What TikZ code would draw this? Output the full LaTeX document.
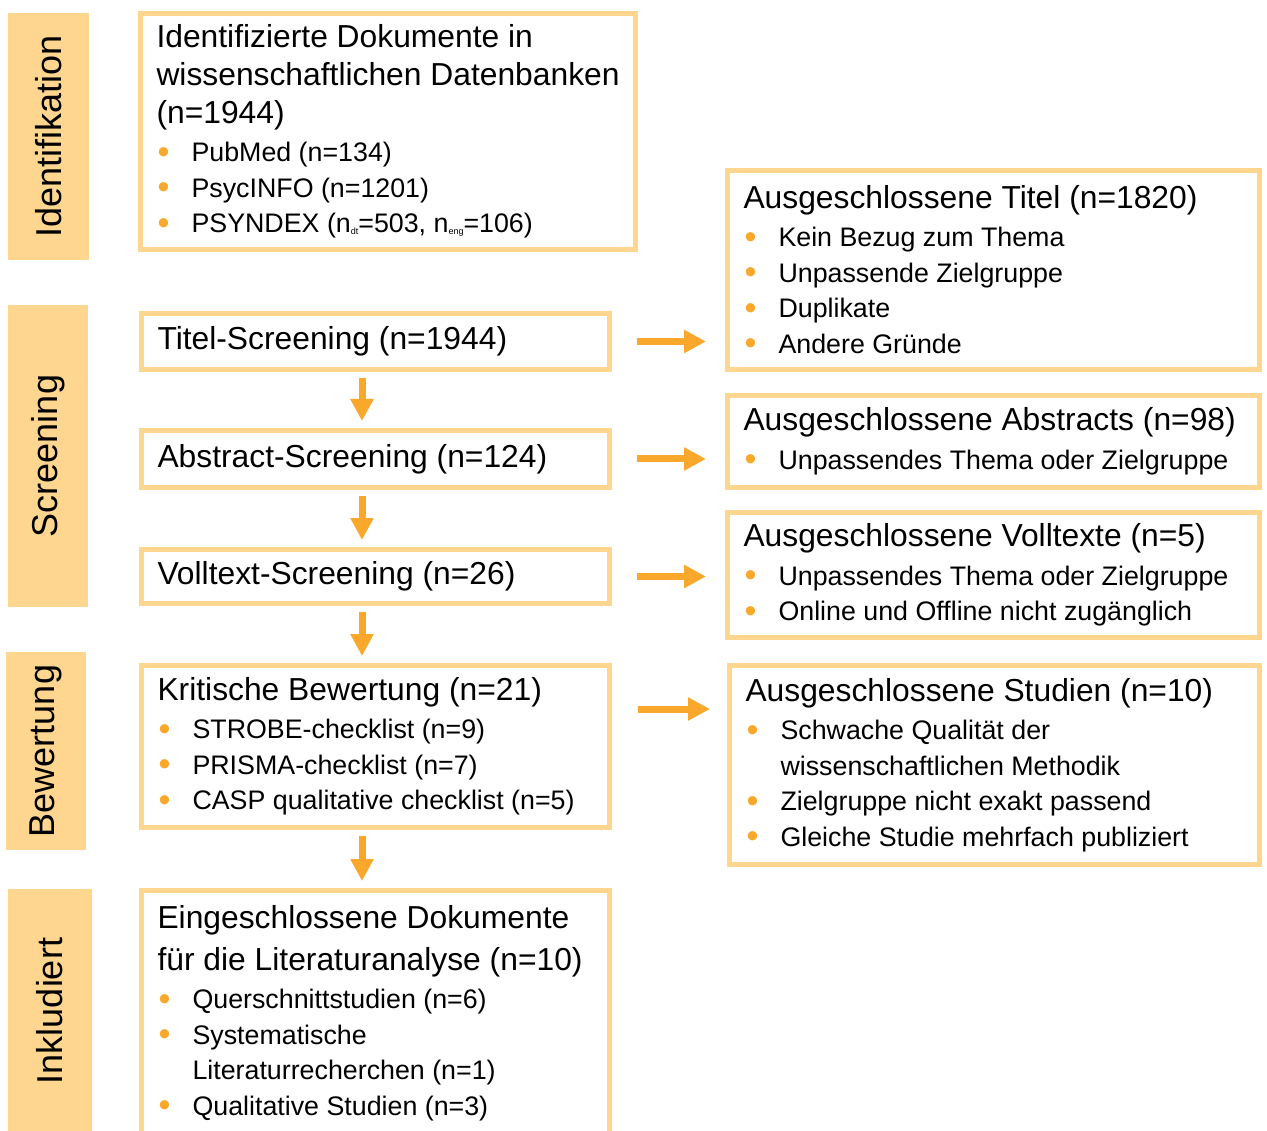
\documentclass[tikz,border=0pt]{standalone}
\usepackage{fontspec}
\setmainfont{Liberation Sans}
\usetikzlibrary{arrows.meta}

\definecolor{boxc}{HTML}{FFD68F}
\definecolor{arrowc}{HTML}{F9A82C}

\newcommand\head[1]{{\fontsize{31.8}{38}\selectfont\spaceskip=0pt\xspaceskip=0pt\leftskip=3pt #1\par}}
\newcommand\pointlist[1]{\vspace{3pt}{\fontsize{26.8}{35.5}\selectfont\spaceskip=0pt\xspaceskip=0pt\leftskip=3pt #1\par}}
\newcommand\bul{\makebox[35pt][l]{\hspace{1pt}\raisebox{-1.5pt}{\textcolor{arrowc}{\fontsize{34}{34}\selectfont •}}}}
\newcommand\nsub[1]{\raisebox{-2pt}{\fontsize{9}{9}\selectfont #1}}

\tikzset{
    stage/.style={draw=boxc, line width=5pt, inner xsep=13pt, inner ysep=0pt,
        align=left, anchor=north west},
    phase/.style={fill=boxc, rotate=90, inner sep=0pt,
        font=\fontsize{36}{36}\selectfont},
    flow/.style={draw=arrowc, line width=7pt, -{Triangle[length=22pt,width=22pt]},
        shorten <=6pt, shorten >=7pt},
}

\begin{document}
\begin{tikzpicture}[x=1pt, y=-1pt]
    \useasboundingbox (0,0) rectangle (1267,1131);
    % phases
    \path ( 48.5, 136.5) node [phase, minimum width=247pt, minimum height=81pt] (idph) {Identifikation};
    \path ( 48,   456)   node [phase, minimum width=302pt, minimum height=80pt] (scph) {Screening};
    \path ( 46,   751)   node [phase, minimum width=198pt, minimum height=80pt] (bwph) {Bewertung};
    \path ( 50,  1011)   node [phase, minimum width=244pt, minimum height=84pt] (inph) {Inkludiert};
    % left column
    \path (138,  11) node [stage, minimum width=495pt, text width=469pt, minimum height=236pt] (ident)
        {\head{Identifizierte Dokumente in\\wissenschaftlichen Datenbanken\\(n=1944)}%
         \pointlist{\bul PubMed (n=134)\\\bul PsycINFO (n=1201)\\\bul PSYNDEX (n\nsub{dt}=503, n\nsub{eng}=106)}};
    \path (139, 311) node [stage, minimum width=468pt, text width=442pt, minimum height=56pt] (titel)
        {\head{Titel-Screening (n=1944)}};
    \path (139, 428) node [stage, minimum width=468pt, text width=442pt, minimum height=57pt] (abstract)
        {\head{Abstract-Screening (n=124)}};
    \path (139, 547) node [stage, minimum width=468pt, text width=442pt, minimum height=54pt] (volltext)
        {\head{Volltext-Screening (n=26)}};
    \path (139, 663) node [stage, minimum width=468pt, text width=442pt, minimum height=162pt] (kritisch)
        {\head{Kritische Bewertung (n=21)}%
         \pointlist{\bul STROBE-checklist (n=9)\\\bul PRISMA-checklist (n=7)\\\bul CASP qualitative checklist (n=5)}};
    \path (139, 888) node [stage, minimum width=468pt, text width=442pt, minimum height=245pt] (einges)
        {\head{Eingeschlossene Dokumente\\[4pt]für die Literaturanalyse (n=10)}%
         \pointlist{\bul Querschnittstudien (n=6)\\\bul Systematische\\\hspace*{35pt}Literaturrecherchen (n=1)\\\bul Qualitative Studien (n=3)}};
    % right column
    \path (725, 168) node [stage, minimum width=532pt, text width=506pt, minimum height=199pt] (titelex)
        {\head{Ausgeschlossene Titel (n=1820)}%
         \pointlist{\bul Kein Bezug zum Thema\\\bul Unpassende Zielgruppe\\\bul Duplikate\\\bul Andere Gründe}};
    \path (725, 393) node [stage, minimum width=532pt, text width=506pt, minimum height=92pt] (abstrex)
        {\head{Ausgeschlossene Abstracts (n=98)}%
         \pointlist{\bul Unpassendes Thema oder Zielgruppe}};
    \path (725, 510) node [stage, minimum width=532pt, text width=506pt, minimum height=125pt] (vollex)
        {\head{Ausgeschlossene Volltexte (n=5)}%
         \pointlist{\bul Unpassendes Thema oder Zielgruppe\\\bul Online und Offline nicht zugänglich}};
    \path (727, 663) node [stage, minimum width=530pt, text width=504pt, minimum height=199pt] (studex)
        {\head{Ausgeschlossene Studien (n=10)}%
         \pointlist{\bul Schwache Qualität der\\\hspace*{35pt}wissenschaftlichen Methodik\\\bul Zielgruppe nicht exakt passend\\\bul Gleiche Studie mehrfach publiziert}};
    % arrows
    \draw [flow] ([xshift=-13.5pt]titel.south) -- ([xshift=-13.5pt]abstract.north);
    \draw [flow] ([xshift=-13.5pt]abstract.south) -- ([xshift=-13.5pt]volltext.north);
    \draw [flow] ([xshift=-13.5pt]volltext.south) -- ([xshift=-13.5pt]kritisch.north);
    \draw [flow] ([xshift=-13.5pt]kritisch.south) -- ([xshift=-13.5pt]einges.north);
    \draw [flow, shorten <=25pt, shorten >=19pt] (titel.east) -- (titel.east -| titelex.west);
    \draw [flow, shorten <=25pt, shorten >=19pt] (abstract.east) -- (abstract.east -| abstrex.west);
    \draw [flow, shorten <=25pt, shorten >=19pt] (volltext.east) -- (volltext.east -| vollex.west);
    \draw [flow, shorten <=26pt, shorten >=17pt] ([yshift=37.5pt]kritisch.east) -- ([yshift=37.5pt]kritisch.east -| studex.west);
\end{tikzpicture}
\end{document}
